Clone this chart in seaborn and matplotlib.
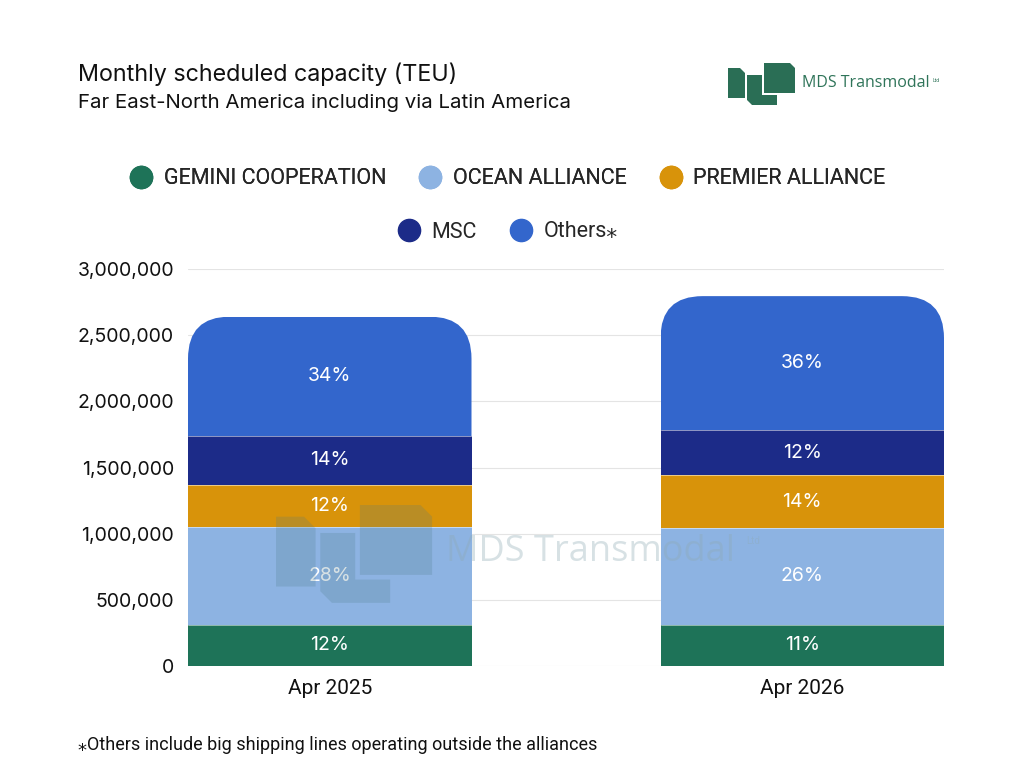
import numpy as np
import pandas as pd
import matplotlib
matplotlib.use("Agg")
import matplotlib.pyplot as plt
import seaborn as sns
from matplotlib.patches import FancyBboxPatch, Polygon
from matplotlib.lines import Line2D
from matplotlib.ticker import FuncFormatter

# ---------------- data ----------------
periods = ["Apr 2025", "Apr 2026"]
series = ["GEMINI COOPERATION", "OCEAN ALLIANCE", "PREMIER ALLIANCE", "MSC", "Others⁎"]
gemini = [310000, 310000]
ocean = [740000, 735000]
premier = [320000, 395000]
msc = [370000, 340000]
others = [900000, 1015000]
colors = ["#1e7358", "#8db3e2", "#d8930a", "#1c2b88", "#3366cc"]
yticks = [0, 500000, 1000000, 1500000, 2000000, 2500000, 3000000]

title = "Monthly scheduled capacity (TEU)"
subtitle = "Far East-North America including via Latin America"
footnote = "⁎Others include big shipping lines operating outside the alliances"

# ---------------- figure ----------------
sns.set_theme(style="white")
plt.rcParams["font.family"] = ["Roboto", "DejaVu Sans"]

fig = plt.figure(figsize=(10.24, 7.68), dpi=100)
ax = fig.add_axes([188 / 1024, 1 - 666 / 768, (944 - 188) / 1024, (666 - 269) / 768])

vals = np.array([gemini, ocean, premier, msc, others], dtype=float)
cum = np.cumsum(vals, axis=0)
bottoms = cum - vals
totals = cum[-1]

bar_w = 0.6
# draw cumulative stacks from top down so lower segments overlay upper ones
patch_groups = {}
for i in range(len(series) - 1, -1, -1):
    n0 = len(ax.patches)
    df = pd.DataFrame({"period": periods, "value": cum[i]})
    sns.barplot(data=df, x="period", y="value", color=colors[i], width=bar_w,
                errorbar=None, ax=ax, saturation=1, linewidth=0, zorder=2)
    patch_groups[i] = ax.patches[n0:]

ax.set_xlim(-0.5 * bar_w, 1 + 0.5 * bar_w)
ax.set_ylim(0, 3000000)

# rounded top corners for the top segment
rx = 0.089
ry = 317000
for p in patch_groups[len(series) - 1]:
    x0, w, h = p.get_x(), p.get_width(), p.get_height()
    clip = FancyBboxPatch((x0, 0), w, h,
                          boxstyle=f"round,pad=0,rounding_size={rx}",
                          mutation_aspect=ry / rx, transform=ax.transData)
    p.set_clip_path(clip)

# thin separator lines between segments
for i in range(len(series) - 1):
    for j in range(len(periods)):
        ax.plot([j - bar_w / 2, j + bar_w / 2], [cum[i, j], cum[i, j]],
                color="white", lw=0.6, alpha=0.6, zorder=3)

# percentage labels
for i in range(len(series)):
    for j in range(len(periods)):
        pct = vals[i, j] / totals[j] * 100
        ax.text(j, bottoms[i, j] + vals[i, j] / 2, f"{pct:.0f}%",
                ha="center", va="center", color="white", fontsize=14,
                fontfamily=["Inter", "DejaVu Sans"], zorder=4)

ax.set_yticks(yticks)
ax.yaxis.set_major_formatter(FuncFormatter(lambda v, _: f"{int(v):,}"))
ax.set_xlabel("")
ax.set_ylabel("")
for s in ax.spines.values():
    s.set_visible(False)
ax.yaxis.grid(True, color="#e4e4e4", lw=0.8)
ax.set_axisbelow(True)
ax.tick_params(axis="both", length=0, colors="#111111")
ax.tick_params(axis="y", pad=10, labelsize=14)
ax.tick_params(axis="x", pad=9, labelsize=15)
for t in ax.get_yticklabels():
    t.set_fontfamily(["Inter", "DejaVu Sans"])

# ---------------- titles ----------------
fig.text(78 / 1024, 1 - 74 / 768, title, fontsize=16.8, va="center", ha="left",
         color="#111111", fontfamily=["Inter", "DejaVu Sans"])
fig.text(78 / 1024, 1 - 103 / 768, subtitle, fontsize=14.7, va="center", ha="left",
         color="#111111", fontfamily=["Inter", "DejaVu Sans"])
fig.text(78 / 1024, 1 - 745 / 768, footnote, fontsize=13, va="center", ha="left",
         color="#111111", fontfamily=["Roboto", "DejaVu Sans"])

# ---------------- legend ----------------
def handle(c):
    return Line2D([], [], marker="o", linestyle="none", markersize=16,
                  markerfacecolor=c, markeredgecolor=c)

leg1 = fig.legend([handle(c) for c in colors[:3]], series[:3], loc="center",
                  bbox_to_anchor=(0.495, 1 - 179 / 768), ncol=3, frameon=False,
                  fontsize=15.5, handletextpad=0.45, columnspacing=1.45, handlelength=1.2)
fig.add_artist(leg1)
leg2 = fig.legend([handle(c) for c in colors[3:]], series[3:], loc="center",
                  bbox_to_anchor=(0.495, 1 - 232 / 768), ncol=2, frameon=False,
                  fontsize=15.5, handletextpad=0.45, columnspacing=1.45, handlelength=1.2)

# ---------------- logos (decoration) ----------------
ov = fig.add_axes([0, 0, 1, 1], zorder=10)
ov.set_xlim(0, 1024)
ov.set_ylim(768, 0)
ov.axis("off")
ov.patch.set_alpha(0)

shape_a = [(0, 5), (12, 5), (17, 10), (17, 35), (0, 35)]
shape_b = [(19, 12), (34, 12), (34, 32), (49, 32), (49, 42), (24, 42), (19, 37)]
shape_c = [(36, 0), (62, 0), (67, 5), (67, 30), (36, 30)]


def draw_logo(x0, y0, s, color, alpha, text_size, text_color, text_alpha, gap):
    for shp in (shape_a, shape_b, shape_c):
        pts = [(x0 + s * x, y0 + s * y) for x, y in shp]
        ov.add_patch(Polygon(pts, closed=True, facecolor=color, edgecolor="none",
                             alpha=alpha))
    ov.text(x0 + s * 67 + gap, y0 + s * 20, "MDS Transmodal", fontsize=text_size,
            color=text_color, alpha=text_alpha, va="center", ha="left",
            fontfamily=["Open Sans", "DejaVu Sans"])


draw_logo(728, 63, 1.0, "#2a6e55", 1.0, 11.5, "#2f7459", 1.0, 7)
ov.text(933, 80, "Ltd", fontsize=3.5, color="#2f7459", va="center", ha="left")
draw_logo(276, 505, 2.33, "#4d7a86", 0.22, 26, "#8eaab4", 0.35, 14)
ov.text(746, 541, "Ltd", fontsize=7, color="#8eaab4", alpha=0.35, va="center", ha="left")

fig.savefig("out.png", dpi=100, facecolor="white")
